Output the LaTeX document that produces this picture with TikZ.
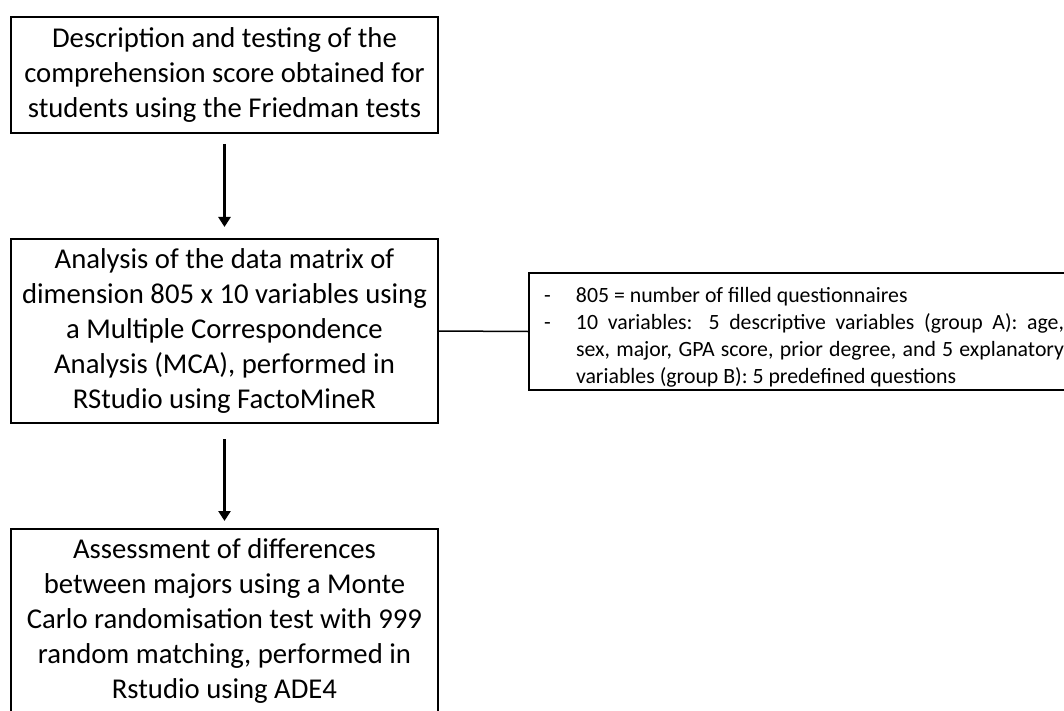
\documentclass[tikz,border=0pt]{standalone}
\usepackage{fontspec}
\setmainfont{Carlito}
\usetikzlibrary{arrows.meta}
\newcommand\dashitem{\par\noindent\hangindent=47pt\hangafter=1\hbox to 47pt{\hskip 15pt -\hfil}}
\begin{document}
\begin{tikzpicture}[x=1pt,y=-1pt,
  mainbox/.style={draw, line width=2pt, minimum width=427pt, align=center, inner sep=0pt,
    font=\fontsize{28.7}{35}\selectfont},
  notebox/.style={draw, line width=2pt, minimum height=117pt, text width=547pt, inner sep=0pt,
    align=justify, font=\fontsize{21.8}{26.8}\selectfont},
  arr/.style={line width=3pt, -{Triangle[length=10pt,width=12pt]}},
  link/.style={line width=1.5pt}]
\useasboundingbox (0,0) rectangle (1064,711);
\clip (0,0) rectangle (1064,711);
\fill[white] (0,0) rectangle (1064,711);
\node[mainbox, minimum height=116pt] (b1) at (224.5,75)
  {Description and testing of the\\comprehension score obtained for\\students using the Friedman tests};
\node[mainbox, minimum height=184pt] (b2) at (224.5,331)
  {Analysis of the data matrix of\\dimension 805 x 10 variables using\\a Multiple Correspondence\\Analysis (MCA), performed in\\RStudio using FactoMineR};
\node[mainbox, minimum height=184pt] (b3) at (224.5,621)
  {Assessment of differences\\between majors using a Monte\\Carlo randomisation test with 999\\random matching, performed in\\Rstudio using ADE4};
\node[notebox, anchor=west] (notes) at (528,331.5)
  {\rightskip=12pt\relax\hyphenpenalty=10000\hbadness=10000\hfuzz=10pt
   \dashitem 805 = number of filled questionnaires
   \dashitem 10 variables: 5 descriptive variables (group A): age,\linebreak sex, major, GPA score, prior degree, and 5 explanatory\linebreak variables (group B): 5 predefined questions\par};
\draw[arr, shorten <=10pt, shorten >=11pt] (b1) -- (b2);
\draw[arr, shorten <=15pt, shorten >=7pt] (b2) -- (b3);
\draw[link] (b2.east) -- (notes.west);
\end{tikzpicture}
\end{document}
